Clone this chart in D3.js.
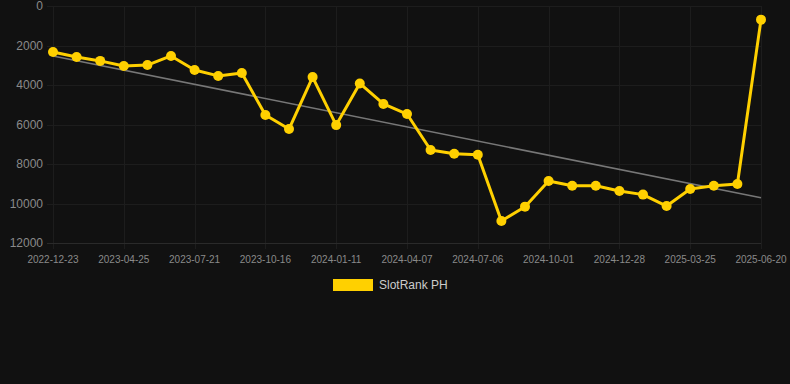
<!DOCTYPE html>
<html>
<head>
<meta charset="utf-8">
<script src="https://cdnjs.cloudflare.com/ajax/libs/d3/7.8.5/d3.min.js"></script>
<style>
  html, body { margin: 0; padding: 0; background: #111111; }
  svg { display: block; font-family: "Liberation Sans", Arial, sans-serif; }
</style>
</head>
<body>
<div id="chart"></div>
<script>
let dates = ["2022-12-23", "2023-01-31", "2023-03-27", "2023-04-25", "2023-05-24", "2023-06-22",
    "2023-07-21", "2023-08-19", "2023-09-17", "2023-10-16", "2023-11-14", "2023-12-13",
    "2024-01-11", "2024-02-09", "2024-03-09", "2024-04-07", "2024-05-07", "2024-06-06",
    "2024-07-06", "2024-08-04", "2024-09-02", "2024-10-01", "2024-10-30", "2024-11-29",
    "2024-12-28", "2025-01-26", "2025-02-24", "2025-03-25", "2025-04-23", "2025-05-22",
    "2025-06-20"]

let ranks = [2330, 2580, 2780, 3040, 2990, 2530,
    3240, 3540, 3390, 5520, 6230, 3600,
    6030, 3920, 4960, 5470, 7290, 7480,
    7530, 10890, 10160, 8860, 9100, 9100,
    9370, 9550, 10130, 9270, 9100, 9010,
    690]

let yTicks = [0, 2000, 4000, 6000, 8000, 10000, 12000]

let seriesName = "SlotRank PH"

var W = 790, H = 384;
var plot = { left: 53, right: 761, top: 6, bottom: 243 };

var svg = d3.select("#chart").append("svg")
    .attr("width", W)
    .attr("height", H);

svg.append("rect").attr("width", W).attr("height", H).attr("fill", "#111111");

var x = d3.scalePoint()
    .domain(d3.range(dates.length))
    .range([plot.left, plot.right]);

var y = d3.scaleLinear()
    .domain([0, 12000])
    .range([plot.top, plot.bottom]);

// grid - vertical lines on every 3rd date (the labelled ones)
var shown = d3.range(0, dates.length, 3);

svg.append("g").selectAll("line")
    .data(shown)
    .enter().append("line")
    .attr("x1", d => Math.round(x(d)) + 0.5).attr("x2", d => Math.round(x(d)) + 0.5)
    .attr("y1", plot.top).attr("y2", plot.bottom + 6)
    .attr("stroke", "#1d1d1d")
    .attr("stroke-width", 1);

svg.append("g").selectAll("line")
    .data(yTicks)
    .enter().append("line")
    .attr("x1", plot.left - 6).attr("x2", plot.right)
    .attr("y1", d => Math.round(y(d)) + 0.5).attr("y2", d => Math.round(y(d)) + 0.5)
    .attr("stroke", d => d == 12000 ? "#2a2a2a" : "#1d1d1d")
    .attr("stroke-width", 1);

// y labels
svg.append("g").selectAll("text")
    .data(yTicks)
    .enter().append("text")
    .attr("x", 43)
    .attr("y", d => y(d))
    .attr("dy", "0.35em")
    .attr("text-anchor", "end")
    .attr("font-size", 12)
    .attr("fill", "#8a8a8a")
    .text(d => d);

// x labels
svg.append("g").selectAll("text")
    .data(shown)
    .enter().append("text")
    .attr("x", d => x(d))
    .attr("y", 259)
    .attr("dy", "0.35em")
    .attr("text-anchor", "middle")
    .attr("font-size", 10)
    .attr("fill", "#8a8a8a")
    .text(d => dates[d]);

// trend line (least squares over the series)
var idx = d3.range(ranks.length);
var mi = d3.mean(idx), mv = d3.mean(ranks);
var slope = d3.sum(idx, i => (i - mi) * (ranks[i] - mv)) / d3.sum(idx, i => (i - mi) * (i - mi));
var icpt = mv - slope * mi;

svg.append("line")
    .attr("x1", x(0)).attr("y1", y(icpt))
    .attr("x2", x(ranks.length - 1)).attr("y2", y(icpt + slope * (ranks.length - 1)))
    .attr("stroke", "#777777")
    .attr("stroke-width", 1.6);

// series
var line = d3.line()
    .x((d, i) => x(i))
    .y(d => y(d));

svg.append("path")
    .datum(ranks)
    .attr("d", line)
    .attr("fill", "none")
    .attr("stroke", "#ffd000")
    .attr("stroke-width", 3)
    .attr("stroke-linejoin", "round");

svg.append("g").selectAll("circle")
    .data(ranks)
    .enter().append("circle")
    .attr("cx", (d, i) => x(i))
    .attr("cy", d => y(d))
    .attr("r", 5)
    .attr("fill", "#ffd000");

// legend
var lg = svg.append("g").attr("transform", "translate(333,279)");
lg.append("rect")
    .attr("width", 40).attr("height", 12)
    .attr("fill", "#ffd000");
lg.append("text")
    .attr("x", 46).attr("y", 6)
    .attr("dy", "0.35em")
    .attr("font-size", 12)
    .attr("fill", "#cccccc")
    .text(seriesName);
</script>
</body>
</html>
